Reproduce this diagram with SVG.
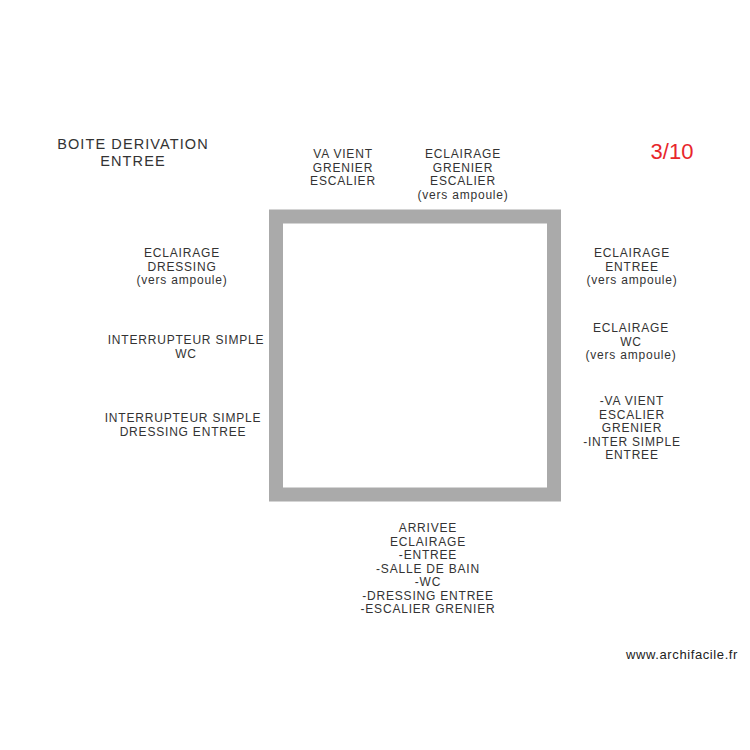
<svg xmlns="http://www.w3.org/2000/svg" width="750" height="750" viewBox="0 0 750 750">
<style>
text{font-family:"Liberation Sans",Arial,sans-serif;font-size:12px;fill:#333;text-anchor:middle;letter-spacing:0.8px}
.big{font-size:14.5px;letter-spacing:1.1px}
.red{font-size:22px;fill:#e8262b;letter-spacing:0}
.wm{font-size:13px;fill:#222;text-anchor:end;letter-spacing:0.6px}
</style>
<rect width="750" height="750" fill="#fff"/>
<g id="boite"><rect x="276" y="216.5" width="278" height="278" fill="#fff" stroke="#aaaaaa" stroke-width="14"/></g>
<g id="connectors"></g>
<g id="titre"><text class="big" x="133" y="149">BOITE DERIVATION</text><text class="big" x="133" y="166">ENTREE</text></g>
<g id="page"><text class="red" x="672" y="159">3/10</text></g>
<g id="vavient"><text x="343" y="158">VA VIENT</text><text x="343" y="171.5">GRENIER</text><text x="343" y="185">ESCALIER</text></g>
<g id="eclgrenier"><text x="463" y="158">ECLAIRAGE</text><text x="463" y="171.5">GRENIER</text><text x="463" y="185">ESCALIER</text><text x="463" y="198.5">(vers ampoule)</text></g>
<g id="ecldressing"><text x="182" y="257">ECLAIRAGE</text><text x="182" y="270.5">DRESSING</text><text x="182" y="284">(vers ampoule)</text></g>
<g id="interwc"><text x="186" y="344">INTERRUPTEUR SIMPLE</text><text x="186" y="357.5">WC</text></g>
<g id="interdressing"><text x="183" y="422">INTERRUPTEUR SIMPLE</text><text x="183" y="435.5">DRESSING ENTREE</text></g>
<g id="eclentree"><text x="632" y="257">ECLAIRAGE</text><text x="632" y="270.5">ENTREE</text><text x="632" y="284">(vers ampoule)</text></g>
<g id="eclwc"><text x="631" y="332">ECLAIRAGE</text><text x="631" y="345.5">WC</text><text x="631" y="359">(vers ampoule)</text></g>
<g id="vavient2"><text x="632" y="405">-VA VIENT</text><text x="632" y="418.5">ESCALIER</text><text x="632" y="432">GRENIER</text><text x="632" y="445.5">-INTER SIMPLE</text><text x="632" y="459">ENTREE</text></g>
<g id="arrivee"><text x="428" y="532">ARRIVEE</text><text x="428" y="545.5">ECLAIRAGE</text><text x="428" y="559">-ENTREE</text><text x="428" y="572.5">-SALLE DE BAIN</text><text x="428" y="586">-WC</text><text x="428" y="599.5">-DRESSING ENTREE</text><text x="428" y="613">-ESCALIER GRENIER</text></g>
<g id="watermark"><text class="wm" x="738" y="659">www.archifacile.fr</text></g>
</svg>
